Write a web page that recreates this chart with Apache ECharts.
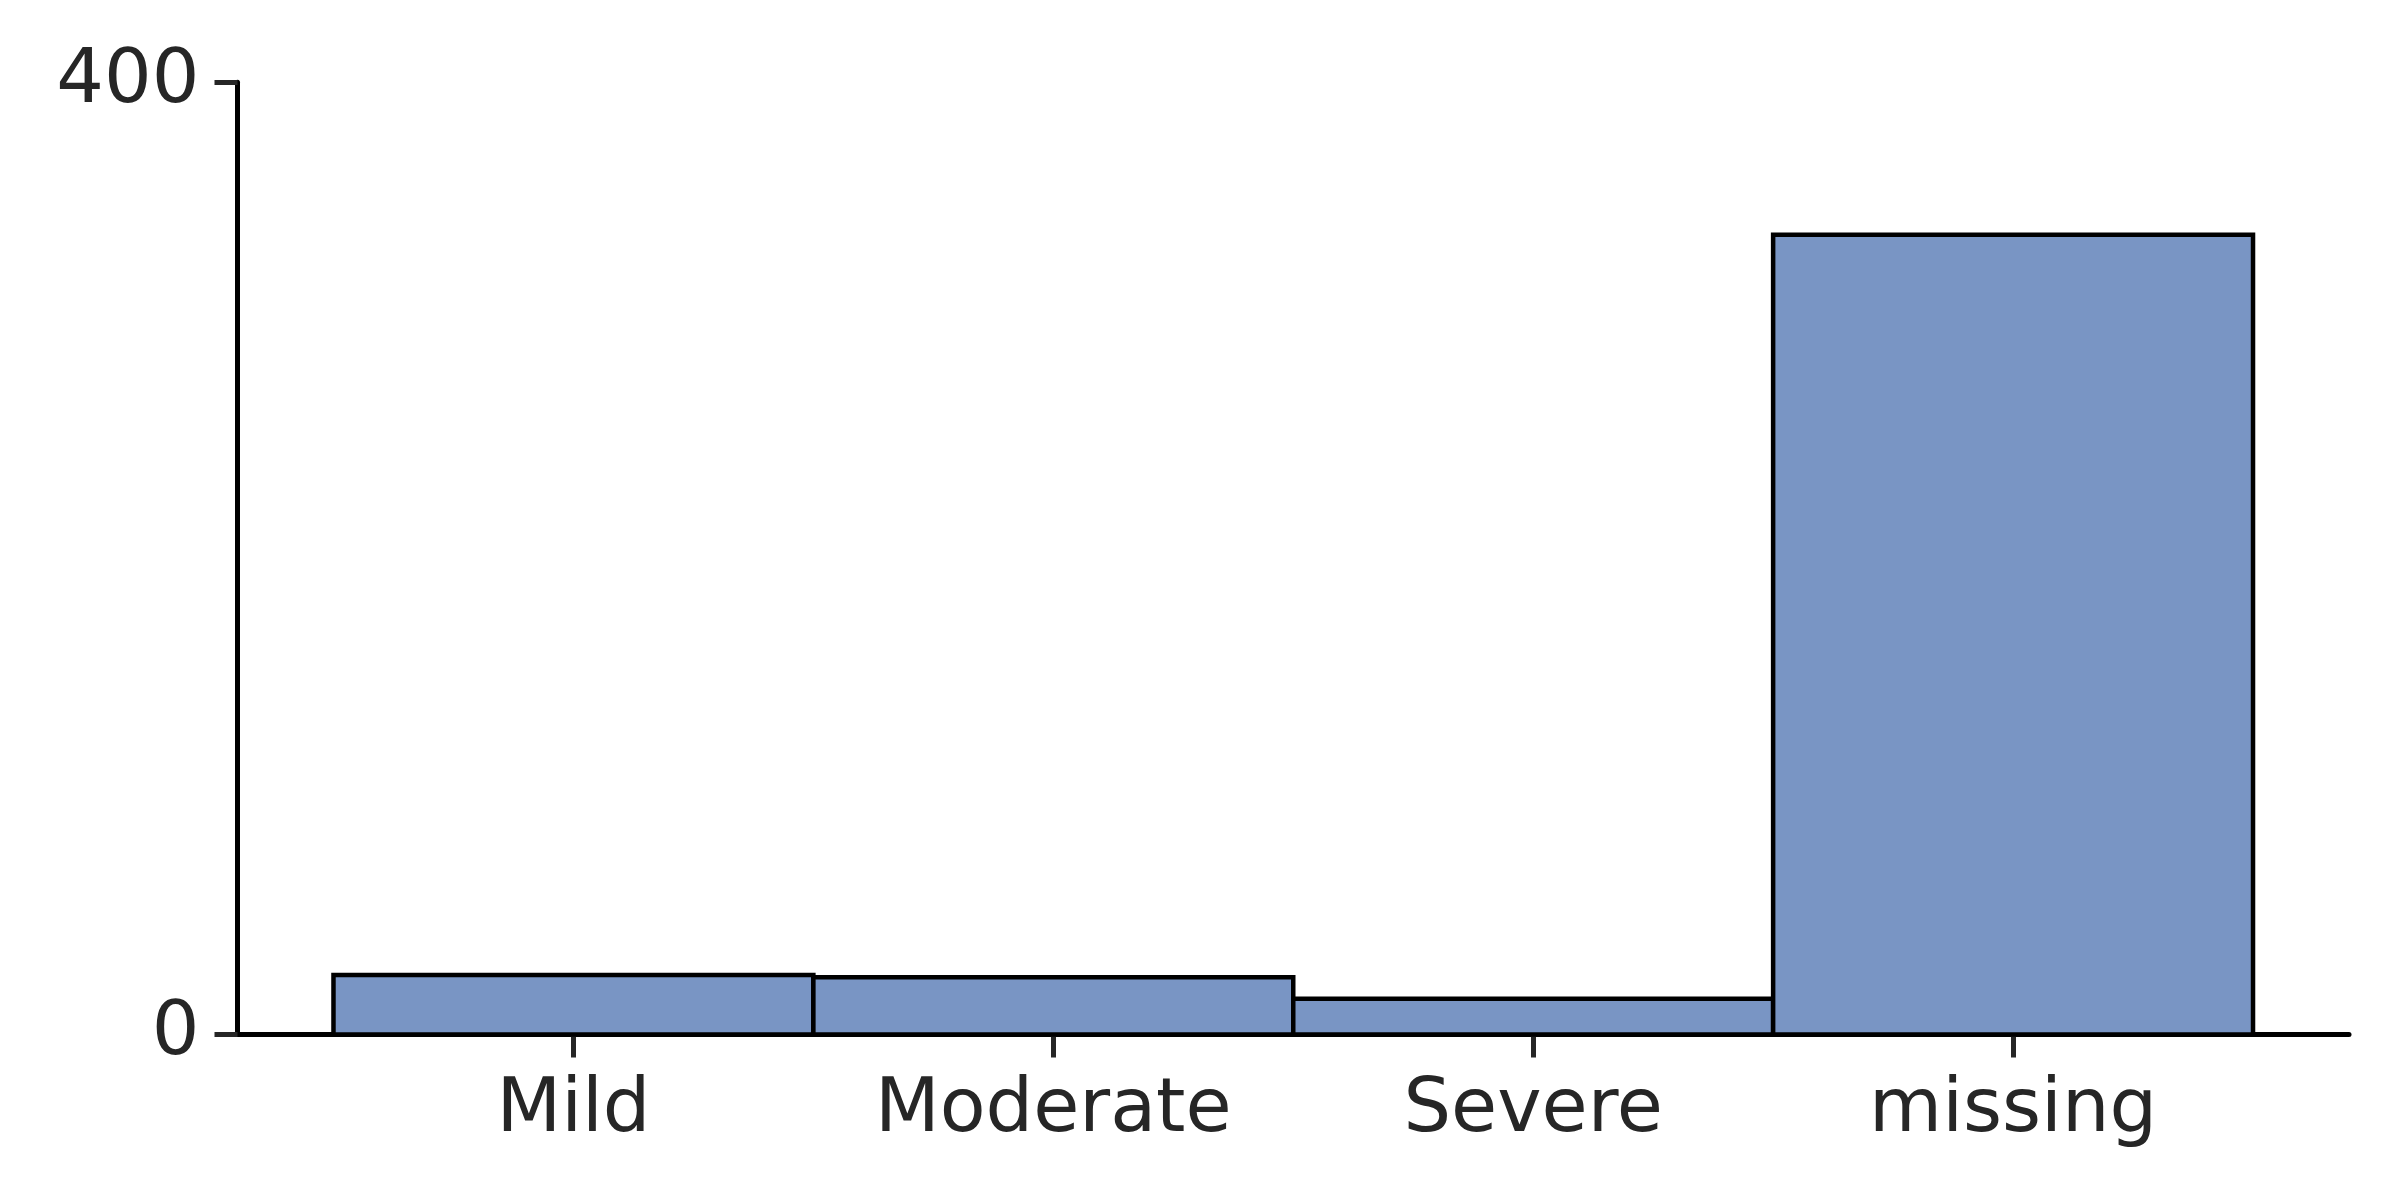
<!DOCTYPE html>
<html>
<head>
<meta charset="utf-8">
<script src="https://cdn.jsdelivr.net/npm/echarts@6/dist/echarts.min.js"></script>
<style>
html,body{margin:0;padding:0;background:#fff;}
#chart{width:2400px;height:1200px;}
</style>
</head>
<body>
<div id="chart"></div>
<script>
// Data
const categories = ['Mild', 'Moderate', 'Severe', 'missing'];
const counts = [25, 24, 15, 336];
const yTicks = [0, 400];

const chart = echarts.init(document.getElementById('chart'), null, {renderer: 'canvas'});

const barData = counts.map((v, i) => [i, v]);
const catIdx = categories.map((c, i) => i);

const option = {
  animation: false,
  backgroundColor: '#ffffff',
  grid: {left: 237.5, right: 51, top: 82.3, bottom: 165.5, containLabel: false},
  xAxis: {
    type: 'value',
    min: -0.7,
    max: 3.7,
    splitLine: {show: false},
    axisLine: {show: true, onZero: false, lineStyle: {color: '#000000', width: 5}},
    axisTick: {show: true, customValues: catIdx, length: 23, lineStyle: {color: '#262626', width: 5}},
    axisLabel: {
      show: true,
      customValues: catIdx,
      formatter: v => categories[Math.round(v)] || '',
      color: '#262626',
      fontFamily: 'DejaVu Sans',
      fontSize: 75,
      margin: 40
    }
  },
  yAxis: {
    type: 'value',
    min: yTicks[0],
    max: yTicks[1],
    interval: yTicks[1] - yTicks[0],
    splitLine: {show: false},
    axisLine: {show: true, onZero: false, lineStyle: {color: '#000000', width: 5}},
    axisTick: {show: true, length: 23, lineStyle: {color: '#262626', width: 5}},
    axisLabel: {
      color: '#262626',
      fontFamily: 'DejaVu Sans',
      fontSize: 75,
      margin: 38,
      padding: [12, 0, 0, 0]
    }
  },
  series: [{
    type: 'custom',
    data: barData,
    encode: {x: 0, y: 1},
    renderItem: function (params, api) {
      const i = api.value(0);
      const v = api.value(1);
      const p0 = api.coord([i - 0.5, v]);
      const p1 = api.coord([i + 0.5, 0]);
      return {
        type: 'rect',
        shape: {x: p0[0], y: p0[1], width: p1[0] - p0[0], height: p1[1] - p0[1]},
        style: {fill: '#7995c4', stroke: '#000000', lineWidth: 4.5}
      };
    }
  }]
};
chart.setOption(option);
</script>
</body>
</html>
